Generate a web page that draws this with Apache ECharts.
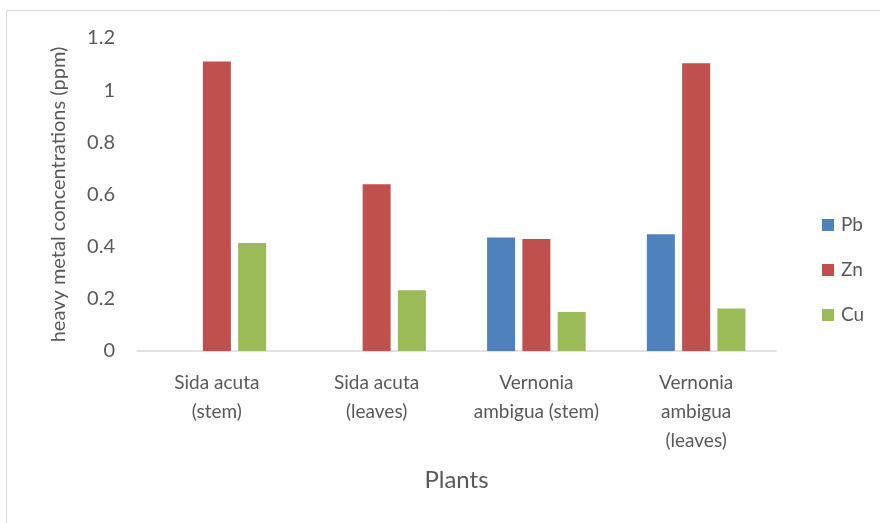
<!DOCTYPE html>
<html>
<head>
<meta charset="utf-8">
<script src="https://cdn.jsdelivr.net/npm/echarts@6/dist/echarts.min.js"></script>
<style>
  html, body { margin: 0; padding: 0; background: #ffffff; }
  #chart { width: 880px; height: 523px; }
</style>
</head>
<body>
<div id="chart"></div>
<script>
// Plant parts sampled
const categories = [
  'Sida acuta\n(stem)',
  'Sida acuta\n(leaves)',
  'Vernonia\nambigua (stem)',
  'Vernonia\nambigua\n(leaves)'
];
// Heavy metal concentrations (ppm)
const pbValues = [0, 0, 0.435, 0.448];
const znValues = [1.11, 0.639, 0.429, 1.103];
const cuValues = [0.414, 0.233, 0.150, 0.163];
// Value axis ticks
const yMin = 0, yMax = 1.2, yStep = 0.2;

const FONT = 'Lato, "Open Sans", sans-serif';
const TEXT = '#595959';

const chart = echarts.init(document.getElementById('chart'), null, { renderer: 'canvas' });

function barSeries(name, data, color) {
  return {
    name: name,
    type: 'bar',
    data: data,
    barWidth: 28,
    barGap: '26%',
    itemStyle: { color: color },
    emphasis: { disabled: true }
  };
}

chart.setOption({
  animation: false,
  backgroundColor: '#ffffff',
  textStyle: { fontFamily: FONT, color: TEXT },
  graphic: [{
    type: 'rect',
    shape: { x: 6.5, y: 10.5, width: 900, height: 600 },
    style: { fill: 'none', stroke: '#d9d9d9', lineWidth: 1 },
    silent: true,
    z: -10
  }],
  grid: { left: 137, right: 104, top: 38, bottom: 172, containLabel: false },
  legend: {
    orient: 'vertical',
    left: 817,
    top: 209,
    itemWidth: 12,
    itemHeight: 12,
    itemGap: 23,
    icon: 'rect',
    textStyle: { fontFamily: FONT, fontSize: 19, lineHeight: 22, color: TEXT, padding: [0, 0, 0, 2] },
    data: ['Pb', 'Zn', 'Cu']
  },
  xAxis: {
    type: 'category',
    data: categories,
    name: 'Plants',
    nameLocation: 'middle',
    nameGap: 117,
    nameTextStyle: { fontFamily: FONT, fontSize: 24, color: TEXT },
    axisLine: { lineStyle: { color: '#d9d9d9', width: 1.5 } },
    axisTick: { show: false },
    axisLabel: {
      interval: 0,
      margin: 17,
      fontFamily: FONT,
      fontSize: 19,
      lineHeight: 29,
      color: TEXT
    }
  },
  yAxis: {
    type: 'value',
    min: yMin,
    max: yMax,
    interval: yStep,
    name: 'heavy metal concentrations (ppm)',
    nameLocation: 'middle',
    nameGap: 68,
    nameTextStyle: { fontFamily: FONT, fontSize: 20, color: TEXT },
    axisLine: { show: false },
    axisTick: { show: false },
    splitLine: { show: false },
    axisLabel: {
      margin: 22,
      fontFamily: FONT,
      fontSize: 20,
      color: TEXT,
      formatter: function (v) { return String(Math.round(v * 10) / 10); }
    }
  },
  series: [
    barSeries('Pb', pbValues, '#4f81bd'),
    barSeries('Zn', znValues, '#c0504d'),
    barSeries('Cu', cuValues, '#9bbb59')
  ]
});
</script>
</body>
</html>
